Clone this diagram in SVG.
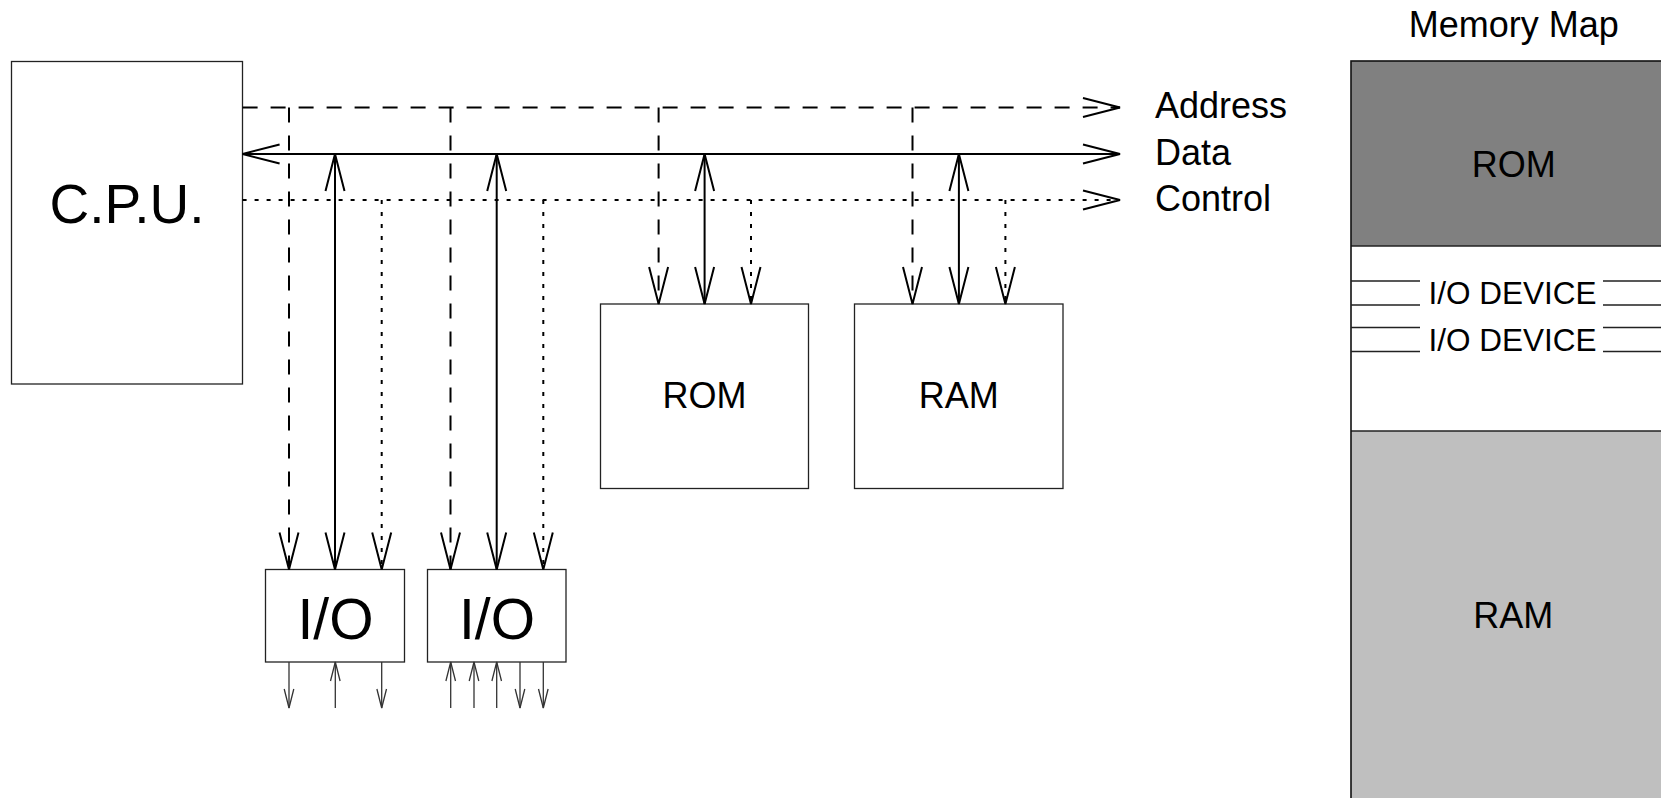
<svg xmlns="http://www.w3.org/2000/svg" width="1661" height="798" viewBox="0 0 1661 798">
<style>
text{font-family:"Liberation Sans",Arial,sans-serif;fill:#000}
.box{fill:#fff;stroke:#222;stroke-width:1.3}
.bus{fill:none;stroke:#000;stroke-width:2}
.addr{stroke-dasharray:15,13}
.ctrl{stroke-dasharray:4,8}
.pin{fill:none;stroke:#333;stroke-width:1.3}
.sep{fill:none;stroke:#222;stroke-width:1.4}
</style>
<defs>
<marker id="ah" markerUnits="userSpaceOnUse" viewBox="-2 -2 42 24" refX="37" refY="9.5" markerWidth="42" markerHeight="24" orient="auto-start-reverse">
<path d="M0,0 L37,9.5 L0,19" fill="none" stroke="#000" stroke-width="2"/>
</marker>
<marker id="sh" markerUnits="userSpaceOnUse" viewBox="-2 -2 23 14" refX="19" refY="4.8" markerWidth="23" markerHeight="14" orient="auto-start-reverse">
<path d="M0,0 L19,4.8 L0,9.6" fill="none" stroke="#333" stroke-width="1.3"/>
</marker>
</defs>

<g id="cpu">
<rect class="box" x="11.5" y="61.5" width="231" height="322.5"/>
<text x="127" y="222.7" font-size="55" text-anchor="middle">C.P.U.</text>
</g>
<g id="rom">
<rect class="box" x="600.5" y="304" width="208" height="184.5"/>
<text x="704.6" y="408.3" font-size="36" text-anchor="middle">ROM</text>
</g>
<g id="ram">
<rect class="box" x="854.5" y="304" width="208.5" height="184.5"/>
<text x="958.7" y="408.3" font-size="36" text-anchor="middle">RAM</text>
</g>
<g id="io1">
<rect class="box" x="265.5" y="569.5" width="139" height="92.5"/>
<text x="335.5" y="639.3" font-size="57" text-anchor="middle">I/O</text>
</g>
<g id="io2">
<rect class="box" x="427.5" y="569.5" width="138.5" height="92.5"/>
<text x="497" y="639.3" font-size="57" text-anchor="middle">I/O</text>
</g>

<g id="legend">
<text x="1155" y="117.7" font-size="36">Address</text>
<text x="1155" y="165" font-size="36">Data</text>
<text x="1155" y="211" font-size="36">Control</text>
</g>

<g id="memory-map">
<text x="1513.8" y="36.7" font-size="36" text-anchor="middle">Memory Map</text>
<rect x="1351" y="61" width="400" height="185" fill="#808080"/>
<rect x="1351" y="246" width="400" height="185" fill="#fff"/>
<rect x="1351" y="431" width="400" height="400" fill="#bfbfbf"/>
<line x1="1351" y1="246" x2="1661" y2="246" stroke="#222" stroke-width="1.4"/>
<line x1="1351" y1="431" x2="1661" y2="431" stroke="#222" stroke-width="1.4"/>
<rect x="1351" y="61" width="400" height="800" fill="none" stroke="#111" stroke-width="1.6"/>
<text x="1512.5" y="303.5" font-size="31.5" text-anchor="middle">I/O DEVICE</text>
<text x="1512.5" y="351" font-size="31.5" text-anchor="middle">I/O DEVICE</text>
<path class="sep" d="M1351,281 H1420 M1351,305 H1420 M1351,327.5 H1420 M1351,351.5 H1420 M1603,281 H1661 M1603,305 H1661 M1603,327.5 H1661 M1603,351.5 H1661"/>
<text x="1513.7" y="176.7" font-size="36" text-anchor="middle">ROM</text>
<text x="1513.3" y="628.3" font-size="36" text-anchor="middle">RAM</text>
</g>

<g id="connectors">
<line class="bus addr" x1="242.6" y1="107.5" x2="1120" y2="107.5" marker-end="url(#ah)"/>
<line class="bus" x1="242.6" y1="154" x2="1120" y2="154" marker-start="url(#ah)" marker-end="url(#ah)"/>
<line class="bus ctrl" x1="242.6" y1="200" x2="1120" y2="200" marker-end="url(#ah)"/>

<line class="bus addr" x1="289" y1="107.5" x2="289" y2="569.5" marker-end="url(#ah)"/>
<line class="bus" x1="335" y1="154" x2="335" y2="569.5" marker-start="url(#ah)" marker-end="url(#ah)"/>
<line class="bus ctrl" x1="381.7" y1="200" x2="381.7" y2="569.5" marker-end="url(#ah)"/>

<line class="bus addr" x1="450.5" y1="107.5" x2="450.5" y2="569.5" marker-end="url(#ah)"/>
<line class="bus" x1="496.7" y1="154" x2="496.7" y2="569.5" marker-start="url(#ah)" marker-end="url(#ah)"/>
<line class="bus ctrl" x1="543.3" y1="200" x2="543.3" y2="569.5" marker-end="url(#ah)"/>

<line class="bus addr" x1="658.6" y1="107.5" x2="658.6" y2="304" marker-end="url(#ah)"/>
<line class="bus" x1="704.6" y1="154" x2="704.6" y2="304" marker-start="url(#ah)" marker-end="url(#ah)"/>
<line class="bus ctrl" x1="751" y1="200" x2="751" y2="304" marker-end="url(#ah)"/>

<line class="bus addr" x1="912.5" y1="107.5" x2="912.5" y2="304" marker-end="url(#ah)"/>
<line class="bus" x1="958.9" y1="154" x2="958.9" y2="304" marker-start="url(#ah)" marker-end="url(#ah)"/>
<line class="bus ctrl" x1="1005.4" y1="200" x2="1005.4" y2="304" marker-end="url(#ah)"/>

<line class="pin" x1="289" y1="662" x2="289" y2="708" marker-end="url(#sh)"/>
<line class="pin" x1="335.3" y1="708" x2="335.3" y2="662" marker-end="url(#sh)"/>
<line class="pin" x1="381.7" y1="662" x2="381.7" y2="708" marker-end="url(#sh)"/>
<line class="pin" x1="450.7" y1="708" x2="450.7" y2="662" marker-end="url(#sh)"/>
<line class="pin" x1="474" y1="708" x2="474" y2="662" marker-end="url(#sh)"/>
<line class="pin" x1="496.7" y1="708" x2="496.7" y2="662" marker-end="url(#sh)"/>
<line class="pin" x1="520" y1="662" x2="520" y2="708" marker-end="url(#sh)"/>
<line class="pin" x1="543.3" y1="662" x2="543.3" y2="708" marker-end="url(#sh)"/>
</g>
</svg>
